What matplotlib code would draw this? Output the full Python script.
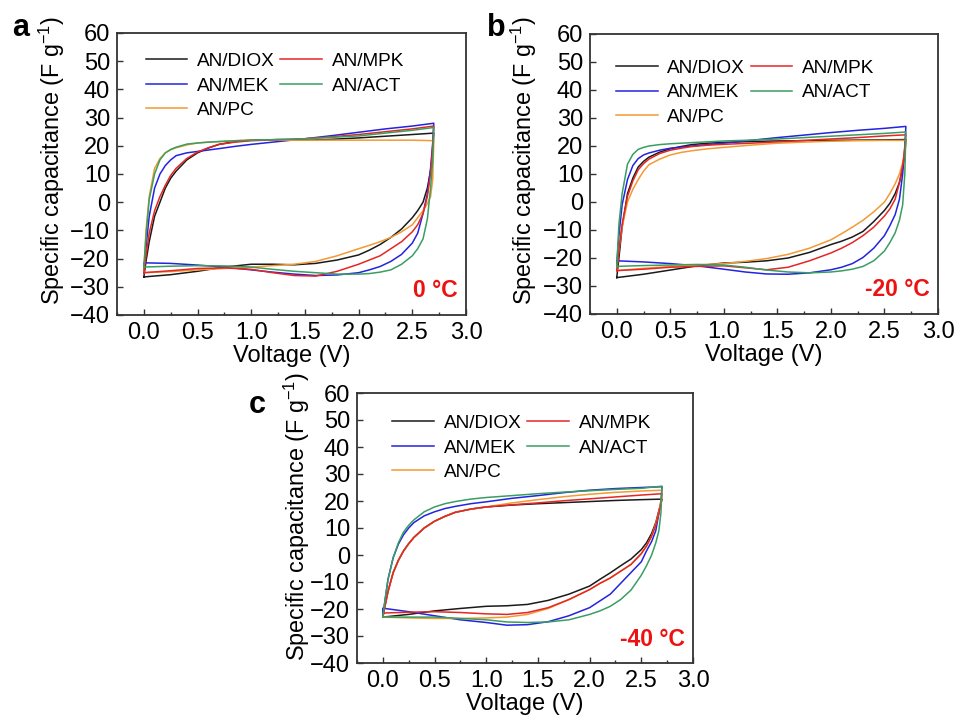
import matplotlib
matplotlib.use("Agg")
import matplotlib.pyplot as plt
from matplotlib.ticker import MultipleLocator

plt.rcParams['font.family'] = ['Liberation Sans', 'DejaVu Sans']
plt.rcParams['mathtext.fontset'] = 'custom'
plt.rcParams['mathtext.rm'] = 'Liberation Sans'

# Voltage grids for the charge (forward) and discharge (reverse) sweeps
v_fwd = [0, 0.02, 0.05, 0.1, 0.15, 0.2, 0.25, 0.3, 0.4, 0.5, 0.6, 0.7, 0.85,
         1.0, 1.25, 1.5, 1.75, 2.0, 2.25, 2.5, 2.7]
v_rev = [2.7, 2.69, 2.67, 2.64, 2.6, 2.55, 2.5, 2.4, 2.3, 2.2, 2.1, 2.0, 1.8,
         1.6, 1.4, 1.2, 1.0, 0.75, 0.5, 0.25, 0.0]

labels = ["AN/DIOX", "AN/MEK", "AN/PC", "AN/MPK", "AN/ACT"]
colors = ["#1a1a1a", "#2323e0", "#f29a33", "#e42626", "#3a9e63"]

# 0 °C
a_fwd = {
    "AN/DIOX": [-26.5, -21, -14, -5, 0, 5, 8.5, 11, 15, 17.5, 19.2, 20.5, 21.5, 22, 22.2, 22, 22.3, 22.8, 23.4, 24, 24.5],
    "AN/MEK":  [-24, -16, -5, 5, 10, 13, 15, 16.5, 17.5, 18, 18.5, 19, 19.8, 20.5, 21.5, 22.5, 23.6, 24.8, 26, 27, 28],
    "AN/PC":   [-24.5, -10, 2, 12, 15.5, 17.5, 18.6, 19.3, 20.3, 21, 21.3, 21.5, 21.8, 22, 22, 22, 22, 22, 22, 22, 21.8],
    "AN/MPK":  [-25, -19, -11, -3, 2, 6, 9.5, 12, 15.5, 17.8, 19.3, 20.5, 21.3, 21.8, 22.2, 22.5, 23.2, 24, 25, 26, 27],
    "AN/ACT":  [-23, -12, 1, 10, 15, 17.5, 18.7, 19.5, 20.6, 21, 21.3, 21.5, 21.8, 22, 22.2, 22.5, 23, 23.5, 24.5, 25.5, 26.5],
}
a_rev = {
    "AN/DIOX": [24.5, 17, 11, 5, 0, -3, -5.5, -9.5, -12.5, -15, -17, -18.7, -20.5, -21.7, -22.2, -22, -22, -23, -24.5, -25.7, -26.5],
    "AN/MEK":  [28, 21, 12, 3, -4, -11, -14.5, -18.5, -21, -22.8, -24, -25, -25.8, -26, -25.5, -24.8, -24, -23, -22.3, -21.7, -21.5],
    "AN/PC":   [21.8, 8, 2, -0.5, -3, -5.5, -8, -10.5, -12.5, -14, -15.3, -16.5, -19, -21, -22, -22.5, -23, -23.5, -24, -24.6, -25],
    "AN/MPK":  [27, 20, 10, 2, -4, -8, -10.5, -14, -16.5, -19, -20.5, -22, -24.5, -26.2, -26, -25, -23.8, -23.3, -23.5, -24.3, -25],
    "AN/ACT":  [26.5, 15, 5, -6, -13, -16.5, -19, -22, -24, -24.8, -25.3, -25.5, -25.5, -25, -24.5, -23.8, -23, -22.6, -22.5, -22.7, -23],
}

# -20 °C
b_fwd = {
    "AN/DIOX": [-27, -20, -9, 3, 8.5, 12.5, 14.5, 16, 17.8, 19, 19.8, 20.5, 21, 21.3, 21.6, 21.8, 21.9, 22, 22.1, 22.2, 22.3],
    "AN/MEK":  [-22, -12, -1, 8, 13, 15.5, 16.8, 17.5, 18.5, 19.2, 19.6, 20, 20.5, 21, 22, 23, 23.9, 24.8, 25.6, 26.3, 27],
    "AN/PC":   [-24, -17, -9, 0, 4.5, 8, 11, 13.3, 15.3, 16.8, 17.7, 18.3, 19, 19.5, 20.3, 21, 21.4, 21.7, 21.9, 22, 22],
    "AN/MPK":  [-24.5, -17, -8, 2, 7.5, 11.5, 13.7, 15.3, 17.3, 18.5, 19.2, 19.8, 20.3, 20.6, 21, 21.5, 22, 22.5, 23, 23.6, 24],
    "AN/ACT":  [-23, -8, 3, 13.5, 17, 18.8, 19.5, 20, 20.5, 20.8, 21, 21.2, 21.5, 21.8, 22.1, 22.5, 23, 23.5, 24, 24.5, 25],
}
b_rev = {
    "AN/DIOX": [22.3, 17, 12, 7, 3, -0.5, -3, -7, -10.5, -12.5, -14, -15.2, -18, -20, -21, -21.5, -21.8, -22.8, -24.3, -25.8, -27],
    "AN/MEK":  [27, 20, 10, 1, -4.5, -8.5, -12, -16.5, -19.8, -22, -23.3, -24.2, -25.3, -25.8, -25.7, -25, -24, -22.8, -22, -21.4, -21],
    "AN/PC":   [22, 18, 14, 10, 6.5, 3, 0, -3.5, -6.5, -9, -11.3, -13.5, -16.5, -18.7, -20.2, -21.2, -22, -22.5, -23, -23.7, -24.5],
    "AN/MPK":  [24, 19, 13, 7, 1, -2.5, -5, -9, -12, -14.5, -16.5, -18.2, -21, -23.3, -24.2, -23.5, -22.8, -23, -23.3, -24, -24.5],
    "AN/ACT":  [25, 10, -1, -6.5, -11, -14.5, -17.5, -21, -23, -24, -24.6, -25, -25.3, -25, -24.3, -23.3, -22.5, -22.3, -22.5, -22.7, -23],
}

# -40 °C
c_fwd = {
    "AN/DIOX": [-23, -19, -13.5, -6.5, -2, 1.5, 4.2, 6.5, 10, 12.5, 14.3, 15.8, 17, 17.8, 18.5, 19, 19.4, 19.8, 20.2, 20.5, 20.7],
    "AN/MEK":  [-22.5, -17, -9, -1, 4, 7.5, 10, 12, 14.5, 16, 17.2, 18, 19, 19.7, 21, 22, 23.1, 24, 24.6, 25, 25.3],
    "AN/PC":   [-23, -19, -13.5, -6.5, -2, 1.5, 4.2, 6.5, 10, 12.5, 14.3, 15.8, 17, 17.8, 19.3, 20.5, 21.6, 22.5, 23.2, 23.7, 24],
    "AN/MPK":  [-23, -19, -13.5, -6.5, -2, 1.5, 4.2, 6.5, 10, 12.5, 14.3, 15.8, 17, 17.8, 18.6, 19.3, 20.1, 20.8, 21.5, 22.2, 22.7],
    "AN/ACT":  [-23, -17, -9, -1, 4.5, 8.5, 11, 13, 16, 17.8, 19, 19.8, 20.7, 21.3, 22, 22.7, 23.3, 23.8, 24.3, 24.7, 25.5],
}
c_rev = {
    "AN/DIOX": [20.7, 19, 16.5, 12, 8, 4.5, 2, -1.5, -4, -6.6, -9, -11.5, -14.5, -16.8, -18.3, -18.8, -19, -19.8, -20.7, -22, -23],
    "AN/MEK":  [25.3, 20, 15.5, 9, 5, 1.5, -2.5, -6.5, -10.5, -14.5, -17, -19.5, -22.5, -24.7, -25.8, -26, -25, -24, -22.5, -21, -19.7],
    "AN/PC":   [24, 20, 16, 11.5, 7, 3.3, 0.5, -3.5, -6, -8.5, -10.5, -12.8, -16.5, -19.8, -22, -23, -23.3, -23.5, -23.5, -23.3, -23],
    "AN/MPK":  [22.7, 19, 15.5, 11, 7, 3.3, 0.5, -3.5, -6, -8.5, -10.5, -12.8, -16.5, -19.5, -21.3, -22, -21.8, -21.3, -21, -21.2, -21.5],
    "AN/ACT":  [25.5, 15.7, 9, 4.5, 0, -4, -7.5, -13, -16.5, -19, -20.7, -22, -24, -24.8, -25, -24.8, -24, -23.5, -23, -23, -23],
}

# panel letter, temperature tag, sweeps, axes box (px), legend anchor,
# y-label position (axes fraction), letter position (px)
panels = [
    ("a", "0 \u00b0C", a_fwd, a_rev, [117, 33, 466, 315], (0.06, 0.957), (-0.143, 0.548), (21, 28)),
    ("b", "-20 \u00b0C", b_fwd, b_rev, [590, 34, 938, 314], (0.052, 0.936), (-0.146, 0.547), (496, 28)),
    ("c", "-40 \u00b0C", c_fwd, c_rev, [357, 393, 693, 663], (0.083, 0.948), (-0.133, 0.543), (257, 405)),
]

W, H = 958, 722
fig = plt.figure(figsize=(W / 100, H / 100), dpi=100)

for letter, temp, fwd, rev, (x0, y0, x1, y1), anchor, ylab_xy, (lx, ly) in panels:
    ax = fig.add_axes([x0 / W, 1 - y1 / H, (x1 - x0) / W, (y1 - y0) / H])
    for lab, col in zip(labels, colors):
        xs = v_fwd + v_rev + [v_fwd[0]]
        ys = fwd[lab] + rev[lab] + [fwd[lab][0]]
        ax.plot(xs, ys, color=col, lw=1.1, label=lab)
    ax.set_xlim(-0.25, 3.0)
    ax.set_ylim(-40, 60)
    ax.xaxis.set_minor_locator(MultipleLocator(0.25))
    ax.yaxis.set_major_locator(MultipleLocator(10))
    ax.set_xticks([0.0, 0.5, 1.0, 1.5, 2.0, 2.5, 3.0])
    ax.set_xticklabels(["0.0", "0.5", "1.0", "1.5", "2.0", "2.5", "3.0"])
    ax.tick_params(which="both", direction="in", top=False, right=False,
                   labelsize=17, color="#333333", pad=5)
    ax.tick_params(which="major", length=4, width=1)
    ax.tick_params(which="minor", length=2.5, width=1)
    for sp in ax.spines.values():
        sp.set_linewidth(1.3)
        sp.set_color("#333333")
    ax.set_xlabel("Voltage (V)", fontsize=17, labelpad=1)
    ax.set_ylabel("Specific capacitance (F g$^{-1}$)", fontsize=16.8)
    ax.yaxis.set_label_coords(*ylab_xy)
    ax.legend(ncol=2, frameon=False, fontsize=13.7, loc="upper left",
              bbox_to_anchor=anchor, handlelength=2.2, handletextpad=0.5,
              columnspacing=0.3, labelspacing=0.38, borderaxespad=0)
    ax.text(0.975, 0.045, temp, transform=ax.transAxes, ha="right", va="bottom",
            color="#ee1111", fontsize=16.5, fontweight="bold")
    fig.text(lx / W, 1 - ly / H, letter, ha="center", va="center",
             fontsize=22, fontweight="bold")

fig.savefig("out.png", dpi=100)
